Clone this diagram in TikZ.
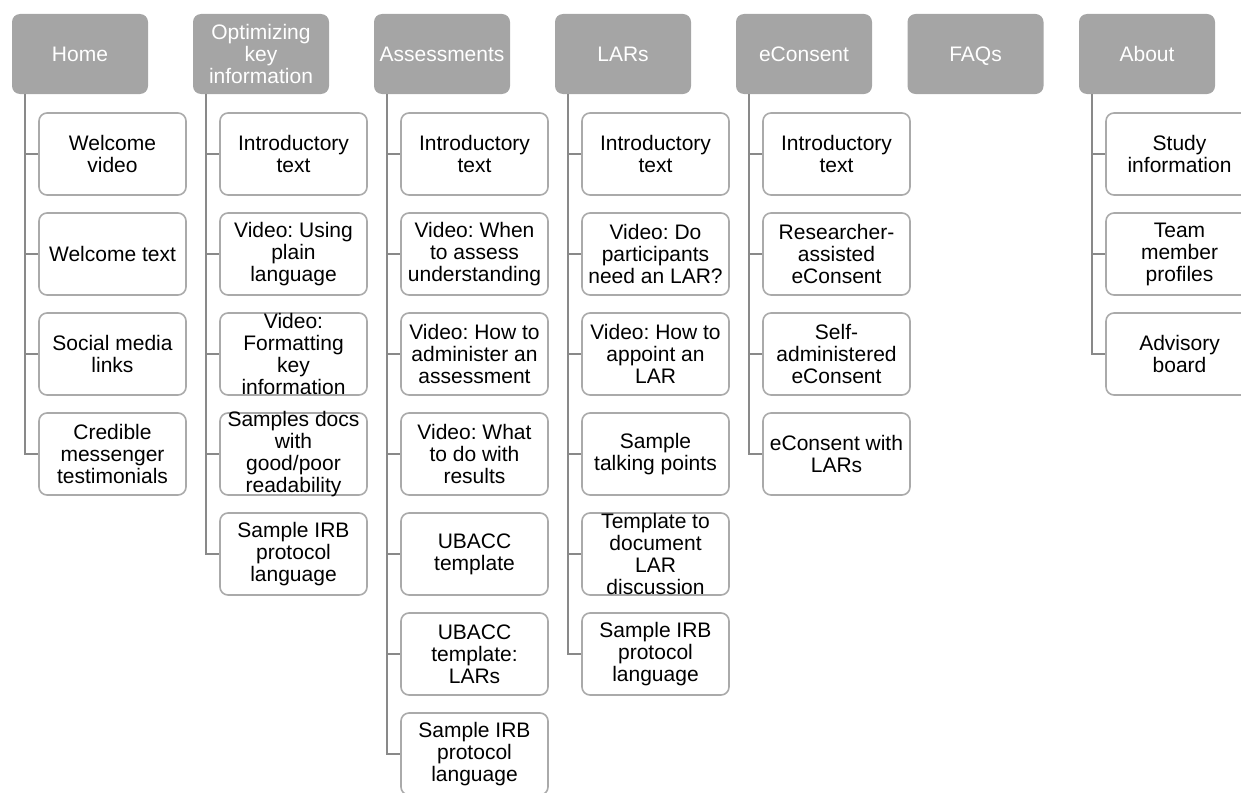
\documentclass[tikz,border=0pt]{standalone}
\usepackage{fontspec}
\setmainfont{Liberation Sans}
\frenchspacing
\definecolor{hdrgray}{RGB}{165,165,165}
\definecolor{boxgray}{RGB}{170,170,170}
\definecolor{linegray}{RGB}{137,137,137}
\begin{document}
\begin{tikzpicture}[x=1pt,y=-1pt,
    hdr/.style={fill=hdrgray, rounded corners=8pt, minimum width=136pt, minimum height=80pt,
      inner sep=0pt, text=white, align=center, font=\fontsize{21}{22}\selectfont,
      text depth=0pt},
    item/.style={draw=boxgray, line width=1.6pt, fill=white, rounded corners=8pt,
      minimum width=147pt, minimum height=82pt, inner xsep=0pt, inner ysep=-4pt,
      align=center, font=\fontsize{21}{22}\selectfont},
    link/.style={draw=linegray, line width=2pt}]
            \useasboundingbox (0,0) rectangle (1241,792);
            \clip (0,0) rectangle (1241,792);
            % define headers
            \node[hdr] (home)   at (80,54)     {Home};
            \node[hdr] (opt)    at (261,54)    {Optimizing\\key\\information};
            \node[hdr] (assess) at (442,54)    {Assessments};
            \node[hdr] (lar)    at (623,54)    {LARs};
            \node[hdr] (econ)   at (804,54)    {eConsent};
            \node[hdr] (faq)    at (975.5,54)  {FAQs};
            \node[hdr] (about)  at (1147,54)   {About};
            % trunk tops
            \coordinate (homeT)   at ([xshift=13pt]home.south west);
            \coordinate (optT)    at ([xshift=13pt]opt.south west);
            \coordinate (assessT) at ([xshift=13pt]assess.south west);
            \coordinate (larT)    at ([xshift=13pt]lar.south west);
            \coordinate (econT)   at ([xshift=13pt]econ.south west);
            \coordinate (aboutT)  at ([xshift=13pt]about.south west);
            % home
            \node[item] (home1) at (112.5,154) {Welcome\\video};
            \node[item] (home2) at (112.5,254) {Welcome text};
            \node[item] (home3) at (112.5,354) {Social media\\links};
            \node[item] (home4) at (112.5,454) {Credible\\messenger\\testimonials};
            % optimizing key information
            \node[item] (opt1) at (293.5,154) {Introductory\\text};
            \node[item] (opt2) at (293.5,254) {Video: Using\\plain\\language};
            \node[item] (opt3) at (293.5,354) {Video:\\Formatting\\key\\information};
            \node[item] (opt4) at (293.5,454) {Samples docs\\with\\good/poor\\readability};
            \node[item] (opt5) at (293.5,554) {Sample IRB\\protocol\\language};
            % assessments
            \node[item] (assess1) at (474.5,154) {Introductory\\text};
            \node[item] (assess2) at (474.5,254) {Video: When\\to assess\\understanding};
            \node[item] (assess3) at (474.5,354) {Video: How to\\administer an\\assessment};
            \node[item] (assess4) at (474.5,454) {Video: What\\to do with\\results};
            \node[item] (assess5) at (474.5,554) {UBACC\\template};
            \node[item] (assess6) at (474.5,654) {UBACC\\template:\\LARs};
            \node[item] (assess7) at (474.5,754) {Sample IRB\\protocol\\language};
            % lars
            \node[item] (lar1) at (655.5,154) {Introductory\\text};
            \node[item] (lar2) at (655.5,254) {Video: Do\\participants\\need an LAR?};
            \node[item] (lar3) at (655.5,354) {Video: How to\\appoint an\\LAR};
            \node[item] (lar4) at (655.5,454) {Sample\\talking points};
            \node[item] (lar5) at (655.5,554) {Template to\\document\\LAR\\discussion};
            \node[item] (lar6) at (655.5,654) {Sample IRB\\protocol\\language};
            % econsent
            \node[item] (econ1) at (836.5,154) {Introductory\\text};
            \node[item] (econ2) at (836.5,254) {Researcher-\\assisted\\eConsent};
            \node[item] (econ3) at (836.5,354) {Self-\\administered\\eConsent};
            \node[item] (econ4) at (836.5,454) {eConsent with\\LARs};
            % about
            \node[item] (about1) at (1179.5,154) {Study\\information};
            \node[item] (about2) at (1179.5,254) {Team\\member\\profiles};
            \node[item] (about3) at (1179.5,354) {Advisory\\board};
            % links
            \draw[link] (homeT) |- (home1.west);
            \draw[link] (homeT) |- (home2.west);
            \draw[link] (homeT) |- (home3.west);
            \draw[link] (homeT) |- (home4.west);
            \draw[link] (optT) |- (opt1.west);
            \draw[link] (optT) |- (opt2.west);
            \draw[link] (optT) |- (opt3.west);
            \draw[link] (optT) |- (opt4.west);
            \draw[link] (optT) |- (opt5.west);
            \draw[link] (assessT) |- (assess1.west);
            \draw[link] (assessT) |- (assess2.west);
            \draw[link] (assessT) |- (assess3.west);
            \draw[link] (assessT) |- (assess4.west);
            \draw[link] (assessT) |- (assess5.west);
            \draw[link] (assessT) |- (assess6.west);
            \draw[link] (assessT) |- (assess7.west);
            \draw[link] (larT) |- (lar1.west);
            \draw[link] (larT) |- (lar2.west);
            \draw[link] (larT) |- (lar3.west);
            \draw[link] (larT) |- (lar4.west);
            \draw[link] (larT) |- (lar5.west);
            \draw[link] (larT) |- (lar6.west);
            \draw[link] (econT) |- (econ1.west);
            \draw[link] (econT) |- (econ2.west);
            \draw[link] (econT) |- (econ3.west);
            \draw[link] (econT) |- (econ4.west);
            \draw[link] (aboutT) |- (about1.west);
            \draw[link] (aboutT) |- (about2.west);
            \draw[link] (aboutT) |- (about3.west);
        \end{tikzpicture}
\end{document}
